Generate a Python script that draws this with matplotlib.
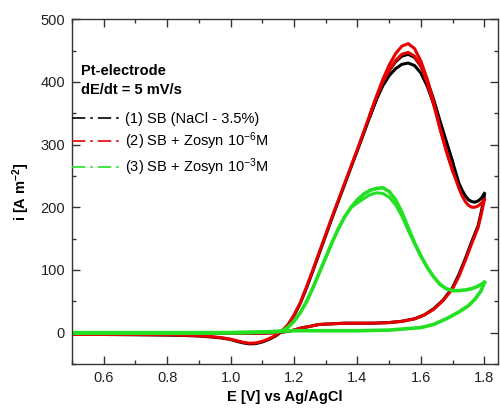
import matplotlib
matplotlib.use("Agg")
import matplotlib.pyplot as plt
from matplotlib.lines import Line2D
from matplotlib.ticker import MultipleLocator

plt.rcParams['font.family'] = ['Liberation Sans', 'DejaVu Sans']
plt.rcParams['mathtext.fontset'] = 'custom'
plt.rcParams['mathtext.rm'] = 'Liberation Sans'
plt.rcParams['mathtext.it'] = 'Liberation Sans:italic'
plt.rcParams['mathtext.bf'] = 'Liberation Sans:bold'

# ---------------- data ----------------
# forward (anodic) scans 0.5 -> 1.8 V
E_fwd = [0.50, 0.60, 0.70, 0.80, 0.90, 1.00, 1.05, 1.10, 1.15, 1.18, 1.20, 1.22, 1.25, 1.28,
         1.32, 1.36, 1.40, 1.45, 1.50, 1.54, 1.58, 1.61, 1.64, 1.67, 1.70, 1.72, 1.74, 1.76,
         1.78, 1.79, 1.80]
i_fwd_sb = [-1, -1, -1, -1, -1, -1, -1, -1, 0, 2, 4, 7, 10, 13, 14, 15, 15, 15, 16, 18, 22, 28,
            38, 52, 72, 93, 118, 145, 170, 192, 218]
i_fwd_z6 = [-1, -1, -1, -1, -1, -1, -1, -1, 0, 2, 4, 7, 10, 13, 14, 15, 15, 15, 16, 18, 22, 28,
            37, 51, 70, 90, 115, 142, 167, 188, 212]

# reverse (cathodic) scans 1.8 -> 0.5 V
E_rev = [1.80, 1.79, 1.78, 1.77, 1.76, 1.75, 1.74, 1.73, 1.72, 1.70, 1.68, 1.66, 1.64, 1.62,
         1.60, 1.58, 1.56, 1.54, 1.52, 1.50, 1.48, 1.46, 1.44, 1.42, 1.40, 1.38, 1.36, 1.34,
         1.32, 1.30, 1.28, 1.26, 1.24, 1.22, 1.20, 1.18, 1.16, 1.14, 1.12, 1.10, 1.08, 1.06,
         1.04, 1.02, 1.00, 0.97, 0.94, 0.90, 0.85, 0.80, 0.70, 0.60, 0.50]
i_rev_sb = [222, 214, 210, 208, 209, 212, 218, 227, 238, 272, 305, 338, 372, 402,
            425, 439, 444, 441, 432, 418, 398, 373, 346, 318, 291, 264, 237, 210,
            183, 155, 127, 99, 72, 47, 27, 11, 1, -6, -11, -15, -17.5, -18,
            -16.5, -14, -11, -8.5, -7, -5.5, -4.5, -4, -3.5, -3, -3]
i_rev_z6 = [212, 206, 202, 200, 200, 203, 209, 218, 230, 258, 290, 326, 368, 404,
            433, 453, 461, 457, 445, 427, 404, 377, 349, 321, 293, 266, 239, 212,
            185, 157, 129, 101, 74, 48, 28, 12, 2, -5, -10, -14, -16.5, -17,
            -15.5, -13, -10.5, -8, -6.5, -5, -4, -3.5, -3, -3, -3]

# second cycle, peak region only
E_cyc2 = [1.70, 1.68, 1.66, 1.64, 1.62, 1.60, 1.58, 1.56, 1.54, 1.52, 1.50, 1.48, 1.46, 1.44]
i_cyc2_sb = [272, 303, 334, 365, 393, 414, 426, 430, 428, 421, 410, 394, 372, 346]
i_cyc2_z6 = [258, 290, 326, 364, 398, 425, 441, 447, 444, 434, 418, 400, 376, 349]

# Zosyn 1e-3 M
E_fwd_z3 = [0.50, 0.60, 0.70, 0.80, 0.90, 1.00, 1.10, 1.15, 1.20, 1.30, 1.40, 1.50, 1.55,
            1.60, 1.64, 1.68, 1.72, 1.75, 1.77, 1.79, 1.80]
i_fwd_z3 = [0, 0, 0, 0, 0, 0, 1, 2, 3, 3, 3, 4, 6, 8, 13, 22, 33, 43, 53, 67, 80]
E_rev_z3 = [1.80, 1.78, 1.76, 1.74, 1.72, 1.70, 1.68, 1.66, 1.64, 1.62, 1.60, 1.58, 1.56,
            1.54, 1.52, 1.50, 1.48, 1.46, 1.44, 1.42, 1.40, 1.38, 1.36, 1.34, 1.32, 1.30,
            1.28, 1.26, 1.24, 1.22, 1.20, 1.18, 1.16, 1.12, 1.05, 0.90, 0.70, 0.50]
i_rev_z3 = [80, 74, 70, 68, 67, 67, 70, 77, 89, 104, 122, 143, 167, 192, 212, 225, 231, 230,
            227, 221, 212, 200, 185, 166, 144, 120, 96, 72, 50, 32, 18, 8, 2, 1, 0, -1, -1, -1]
E_cyc2_z3 = [1.60, 1.58, 1.56, 1.54, 1.52, 1.50, 1.48, 1.46, 1.44, 1.42, 1.40, 1.38]
i_cyc2_z3 = [122, 142, 163, 186, 204, 216, 222, 223, 220, 214, 207, 200]

labels = ["(1) SB (NaCl - 3.5%)",
          "(2) SB + Zosyn 10$^{-6}$M",
          "(3) SB + Zosyn 10$^{-3}$M"]
colors = ["#000000", "#e80000", "#22e022"]

# ---------------- figure ----------------
fig = plt.figure(figsize=(5.0, 4.08), dpi=100)
ax = fig.add_axes([0.144, 0.108, 0.852, 0.845])
lw = 2.2

ax.plot(E_fwd, i_fwd_sb, color=colors[0], lw=lw)
ax.plot(E_rev, i_rev_sb, color=colors[0], lw=lw)
ax.plot(E_cyc2, i_cyc2_sb, color=colors[0], lw=lw)

ax.plot(E_fwd, i_fwd_z6, color=colors[1], lw=lw)
ax.plot(E_rev, i_rev_z6, color=colors[1], lw=lw)
ax.plot(E_cyc2, i_cyc2_z6, color=colors[1], lw=lw)

ax.plot(E_fwd_z3, i_fwd_z3, color=colors[2], lw=lw + 0.4)
ax.plot(E_rev_z3, i_rev_z3, color=colors[2], lw=lw + 0.4)
ax.plot(E_cyc2_z3, i_cyc2_z3, color=colors[2], lw=lw)

ax.set_xlim(0.5, 1.843)
ax.set_ylim(-50, 500)
ax.xaxis.set_major_locator(MultipleLocator(0.2))
ax.xaxis.set_minor_locator(MultipleLocator(0.1))
ax.yaxis.set_major_locator(MultipleLocator(100))
ax.yaxis.set_minor_locator(MultipleLocator(50))
ax.xaxis.set_major_formatter(plt.FuncFormatter(lambda v, p: f"{v:.1f}"))

sc = "#333333"
for s in ax.spines.values():
    s.set_color(sc)
    s.set_linewidth(1.0)
ax.tick_params(which='both', direction='in', top=True, right=True, colors=sc,
               labelcolor='#222222', labelsize=10.5)
ax.tick_params(which='major', length=5.5, width=1.0, pad=5)
ax.tick_params(which='minor', length=3, width=1.0)

ax.set_xlabel("E [V] vs Ag/AgCl", fontsize=10.5, fontweight='bold', labelpad=4)
ax.set_ylabel(r"i [A m$^{\mathbf{-2}}$]", fontsize=10.5, fontweight='bold', labelpad=6)

ax.text(0.021, 0.869, "Pt-electrode\ndE/dt = 5 mV/s", transform=ax.transAxes,
        fontsize=10.5, fontweight='bold', va='top', ha='left', linespacing=1.45)

handles = [Line2D([], [], color=c, lw=1.2, dashes=(8, 3, 1.5, 3)) for c in colors]
ax.legend(handles, labels, loc='upper left', bbox_to_anchor=(0.0, 0.731),
          frameon=False, fontsize=10.5, handlelength=3.4, handletextpad=0.25,
          borderpad=0, borderaxespad=0, labelspacing=0.3)

fig.savefig("out.png", dpi=100)
